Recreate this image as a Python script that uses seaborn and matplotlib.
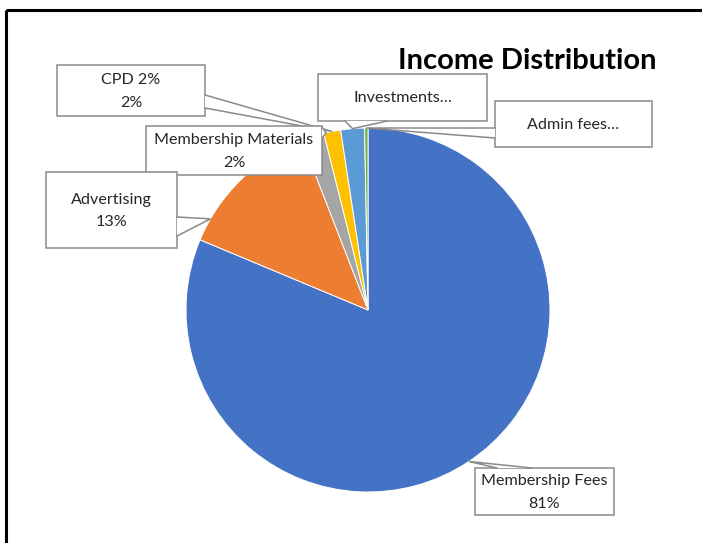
import numpy as np
import matplotlib
matplotlib.use("Agg")
import matplotlib.pyplot as plt
import seaborn as sns
from matplotlib.patches import Polygon

# ---- data ----
categories = ["Membership Fees", "Advertising", "Membership Materials", "CPD 2%", "Investments", "Admin fees"]
values = [81.3, 12.8, 2.0, 1.5, 2.1, 0.3]
truncated = {"Investments": "Investments\u2026", "Admin fees": "Admin fees\u2026"}
colors = ["#4472C4", "#ED7D31", "#A5A5A5", "#FFC000", "#5B9BD5", "#70AD47"]
title = "Income Distribution"

sns.set_theme(style="white")
plt.rcParams["font.family"] = ["Lato", "DejaVu Sans"]

W, H = 702, 543
fig = plt.figure(figsize=(W / 100, H / 100), dpi=100)
ax = fig.add_axes([0, 0, 1, 1])

center = (368, 310)
radius = 182
wedges, _ = ax.pie(values, colors=colors, startangle=-90, counterclock=True,
                   center=center, radius=radius, frame=True,
                   wedgeprops=dict(edgecolor="white", linewidth=0.7))
ax.set_xlim(0, W)
ax.set_ylim(H, 0)
ax.set_aspect("equal")
ax.axis("off")

total = sum(values)
texts = []
for c, v in zip(categories, values):
    if c in truncated:
        texts.append(truncated[c])
    else:
        texts.append(f"{c}\n{round(v / total * 100):.0f}%")

# callout layout: box (x0, y0, x1, y1), pointer base points, apex fraction within wedge
layout = {
    "CPD 2%": dict(box=(57, 65, 205, 116), base=[(205, 95), (205, 108)], frac=0.5),
    "Membership Materials": dict(box=(146, 126, 322, 175), base=[(322, 127), (322, 138)], frac=1.1),
    "Advertising": dict(box=(46, 172, 177, 248), base=[(177, 217), (177, 236)], frac=0.16),
    "Investments": dict(box=(318, 74, 487, 121), base=[(345, 121), (387, 121)], frac=0.5),
    "Admin fees": dict(box=(495, 101, 652, 147), base=[(495, 128), (495, 138)], frac=0.5),
    "Membership Fees": dict(box=(475, 468, 614, 515), base=[(497, 468), (532, 468)], frac=0.5),
}
order = ["CPD 2%", "Membership Materials", "Advertising", "Investments", "Admin fees", "Membership Fees"]
edge = "#8a8a8a"
z = 5
for name in order:
    i = categories.index(name)
    w = wedges[i]
    L = layout[name]
    t = np.deg2rad(w.theta1 + L["frac"] * (w.theta2 - w.theta1))
    apex = (center[0] + radius * np.cos(t), center[1] + radius * np.sin(t))
    x0, y0, x1, y1 = L["box"]
    ax.add_patch(Polygon([(x0, y0), (x1, y0), (x1, y1), (x0, y1)], closed=True,
                         facecolor="white", edgecolor=edge, linewidth=1.1, zorder=z))
    b1, b2 = L["base"]
    ax.add_patch(Polygon([b1, apex, b2], closed=True, facecolor="white",
                         edgecolor="none", zorder=z + 0.1))
    ax.plot([b1[0], apex[0], b2[0]], [b1[1], apex[1], b2[1]], color=edge,
            linewidth=1.1, zorder=z + 0.2, solid_joinstyle="miter")
    ax.text((x0 + x1) / 2, (y0 + y1) / 2 + 1, texts[i], ha="center", va="center",
            fontsize=11.6, color="#262626", linespacing=1.75, zorder=z + 0.3)
    z += 1

ax.text(527, 61, title, ha="center", va="center", fontsize=21,
        fontweight="bold", color="black", zorder=20)

# slide frame (top and left edges)
ax.plot([5.5, W], [9.5, 9.5], color="black", linewidth=2.2, solid_capstyle="butt", zorder=30)
ax.plot([5.5, 5.5], [9.5, H], color="black", linewidth=2.2, solid_capstyle="butt", zorder=30)

fig.savefig("out.png", dpi=100, facecolor="white")
